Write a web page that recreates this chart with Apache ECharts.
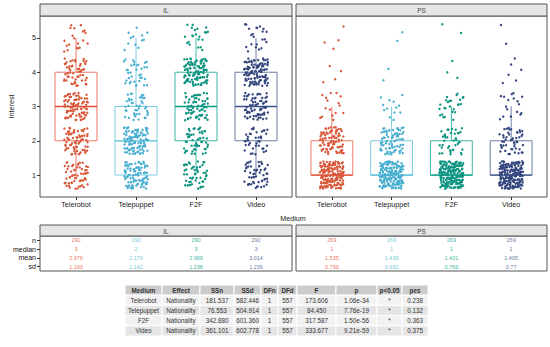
<!DOCTYPE html>
<html><head><meta charset="utf-8">
<script src="https://cdn.jsdelivr.net/npm/echarts@6/dist/echarts.min.js"></script>
<style>html,body{margin:0;padding:0;background:#fff}#c{width:550px;height:347px}</style>
</head><body><div id="c"></div>
<script>
// ---------- data ----------
const media = ['Telerobot', 'Telepuppet', 'F2F', 'Video'];
const panels = ['IL', 'PS'];
const levels = [1, 2, 3, 4, 5];
// number of responses at each Interest level (1..5), per medium
const countsIL = [[59, 71, 85, 55, 20], [96, 105, 42, 35, 12], [51, 51, 66, 100, 22], [53, 39, 71, 105, 22]];
const countsPS = [[161, 84, 16, 4, 4], [174, 78, 13, 2, 2], [199, 39, 26, 3, 2], [195, 49, 17, 6, 2]];
// box stats: lower whisker, Q1, median, Q3, upper whisker
const boxIL = [[1, 2, 3, 4, 5], [1, 1, 2, 3, 5], [1, 2, 3, 4, 5], [1, 2, 3, 4, 5]];
const boxPS = [[1, 1, 1, 2, 3], [1, 1, 1, 2, 3], [1, 1, 1, 2, 3], [1, 1, 1, 2, 3]];
const yTicks = [1, 2, 3, 4, 5];
const statRows = ['n', 'median', 'mean', 'sd'];
const nIL = [290, 290, 290, 290];
const nPS = [269, 269, 269, 269];
const medianIL = [3, 2, 3, 3];
const medianPS = [1, 1, 1, 1];
const meanIL = ['2.676', '2.179', '2.969', '3.014'];
const meanPS = ['1.535', '1.439', '1.401', '1.405'];
const sdIL = ['1.193', '1.142', '1.238', '1.239'];
const sdPS = ['0.799', '0.692', '0.769', '0.77'];
const anovaCols = ['Medium', 'Effect', 'SSn', 'SSd', 'DFn', 'DFd', 'F', 'p', 'p<0.05', 'pes'];
const anovaEffect = ['Nationality', 'Nationality', 'Nationality', 'Nationality'];
const anovaSSn = [181.537, 76.553, 342.880, 361.101];
const anovaSSd = [582.446, 504.914, 601.360, 602.778];
const anovaDFn = [1, 1, 1, 1];
const anovaDFd = [557, 557, 557, 557];
const anovaF = [173.606, 84.450, 317.587, 333.677];
const anovaP = [1.06e-34, 7.76e-19, 1.50e-56, 9.21e-59];
const anovaSig = ['*', '*', '*', '*'];
const anovaPes = [0.238, 0.132, 0.363, 0.375];

// ---------- style ----------
const colors = ['#E64B35', '#4DBBD5', '#00A087', '#3C5488'];
const pointColors = ['#D9583A', '#4AAFD0', '#0E9480', '#34467E'];
const FONT = 'Liberation Sans, Arial, sans-serif';
const TXT = '#1a1a1a';
const colWidths = [37, 38, 34, 27, 17, 19, 39, 41, 25, 26];
const JW = 0.2, JH = 0.4; // jitter half-width / half-height (data units)

function frac(v) { return v - Math.floor(v); }
function jitter(counts, xi, seed) {
  const pts = []; let k = 0;
  counts.forEach((c, li) => {
    for (let j = 0; j < c; j++) {
      k++;
      const u = frac(seed + k * 0.7548776662 + 0.09 * Math.sin(k * 12.9898));
      const v = frac(seed * 1.7 + k * 0.5698402910 + 0.09 * Math.sin(k * 78.233));
      pts.push([xi + (u - 0.5) * 2 * JW, levels[li] + (v - 0.5) * 2 * JH]);
    }
  });
  return pts;
}

function renderBox(params, api) {
  const x = api.value(0);
  const lo = api.coord([x, api.value(1)]), q1 = api.coord([x, api.value(2)]),
        md = api.coord([x, api.value(3)]), q3 = api.coord([x, api.value(4)]),
        hi = api.coord([x, api.value(5)]);
  const w = api.size([0.7, 0])[0];
  const col = colors[api.value(6)];
  const st = { stroke: col, lineWidth: 1, fill: null, opacity: 0.75 };
  return { type: 'group', children: [
    { type: 'line', shape: { x1: lo[0], y1: lo[1], x2: q1[0], y2: q1[1] }, style: st },
    { type: 'line', shape: { x1: q3[0], y1: q3[1], x2: hi[0], y2: hi[1] }, style: st },
    { type: 'rect', shape: { x: q3[0] - w / 2, y: q3[1], width: w, height: q1[1] - q3[1] }, style: { stroke: col, fill: '#fff', lineWidth: 1, strokeOpacity: 0.75 } },
    { type: 'line', shape: { x1: md[0] - w / 2, y1: md[1], x2: md[0] + w / 2, y2: md[1] }, style: { stroke: col, lineWidth: 1.3 } }
  ]};
}

const anovaRows = ['header'].concat(media);
function cellText(c, r) {
  if (r === 0) return anovaCols[c];
  const i = r - 1;
  switch (c) {
    case 0: return media[i];
    case 1: return anovaEffect[i];
    case 2: return anovaSSn[i].toFixed(3);
    case 3: return anovaSSd[i].toFixed(3);
    case 4: return String(anovaDFn[i]);
    case 5: return String(anovaDFd[i]);
    case 6: return anovaF[i].toFixed(3);
    case 7: return anovaP[i].toExponential(2);
    case 8: return anovaSig[i];
    case 9: return anovaPes[i].toFixed(3);
  }
}
const cum = [0]; colWidths.forEach(w => cum.push(cum[cum.length - 1] + w));
function renderCell(params, api) {
  const c = api.value(0), r = api.value(1);
  const p0 = api.coord([cum[c], r]), p1 = api.coord([cum[c + 1], r]);
  const h = api.size([0, 1])[1];
  const fill = r === 0 ? '#CCCCCC' : (r % 2 === 1 ? '#F2F2F2' : '#E5E5E5');
  return { type: 'group', children: [
    { type: 'rect', shape: { x: p0[0], y: p0[1] - h / 2, width: p1[0] - p0[0], height: h }, style: { fill: fill, stroke: '#fff', lineWidth: 1 } },
    { type: 'text', x: (p0[0] + p1[0]) / 2, y: p0[1], style: { text: cellText(c, r), align: 'center', verticalAlign: 'middle', fontSize: 6.3, fontFamily: FONT, fontWeight: r === 0 ? 'bold' : 'normal', fill: '#333' } }
  ]};
}

// ---------- layout ----------
const plotGrids = [
  { left: 40, top: 16, width: 252, height: 181 },
  { left: 296, top: 16, width: 251, height: 181 }
];
const tabGrids = [
  { left: 40, top: 236, width: 252, height: 35 },
  { left: 296, top: 236, width: 251, height: 35 }
];
const gridBase = { show: true, borderColor: '#555', borderWidth: 1, backgroundColor: '#fff', containLabel: false };

const grid = [], xAxis = [], yAxis = [], series = [];
plotGrids.forEach((g, pi) => {
  grid.push(Object.assign({}, gridBase, g));
  xAxis.push({ type: 'value', gridIndex: pi, min: 0.4, max: 4.6, splitLine: { show: false },
    axisLine: { show: false },
    axisTick: { show: true, length: 3, lineStyle: { color: '#333' }, customValues: [1, 2, 3, 4] },
    axisLabel: { show: true, customValues: [1, 2, 3, 4], formatter: v => media[Math.round(v) - 1], fontSize: 7.2, color: TXT, fontFamily: FONT, margin: 4 } });
  yAxis.push({ type: 'value', gridIndex: pi, min: 0.36, max: 5.64, splitLine: { show: false },
    axisLine: { show: false },
    name: pi === 0 ? 'Interest' : '', nameLocation: 'middle', nameGap: 25, nameRotate: 90,
    nameTextStyle: { fontSize: 7.2, color: TXT, fontFamily: FONT },
    axisTick: { show: pi === 0, length: 3, lineStyle: { color: '#333' }, customValues: yTicks },
    axisLabel: { show: pi === 0, customValues: yTicks, fontSize: 7.2, color: TXT, fontFamily: FONT, margin: 4 } });
  const boxes = pi === 0 ? boxIL : boxPS;
  series.push({ type: 'custom', xAxisIndex: pi, yAxisIndex: pi, renderItem: renderBox, silent: true,
    encode: { x: 0, y: [1, 2, 3, 4, 5] },
    data: boxes.map((b, i) => [i + 1].concat(b, [i])) });
  const counts = pi === 0 ? countsIL : countsPS;
  counts.forEach((cnt, i) => {
    series.push({ type: 'scatter', xAxisIndex: pi, yAxisIndex: pi, symbolSize: 2.4, silent: true,
      itemStyle: { color: pointColors[i], opacity: 1 },
      data: jitter(cnt, i + 1, 0.13 + pi * 0.31 + i * 0.17) });
  });
});
tabGrids.forEach((g, ti) => {
  const gi = 2 + ti;
  grid.push(Object.assign({}, gridBase, g));
  xAxis.push({ type: 'value', gridIndex: gi, min: 0.4, max: 4.6, show: false });
  yAxis.push({ type: 'category', gridIndex: gi, data: statRows, inverse: true,
    axisLine: { show: false }, splitLine: { show: false },
    axisTick: { show: ti === 0, length: 3, alignWithLabel: true, interval: 0, lineStyle: { color: '#333' } },
    axisLabel: { show: ti === 0, interval: 0, fontSize: 7, color: '#111', fontFamily: FONT, margin: 4 } });
  const rows = ti === 0 ? [nIL, medianIL, meanIL, sdIL] : [nPS, medianPS, meanPS, sdPS];
  const data = [];
  rows.forEach((vals, r) => vals.forEach((v, i) => data.push({ name: String(v), value: [i + 1, r], label: { color: colors[i] } })));
  series.push({ type: 'scatter', xAxisIndex: gi, yAxisIndex: gi, symbolSize: 0, silent: true,
    label: { show: true, position: 'inside', formatter: '{b}', fontSize: 5.5, fontFamily: FONT }, data: data });
});
// ANOVA table
grid.push({ left: 125, top: 285, width: 303, height: 51, show: false });
xAxis.push({ type: 'value', gridIndex: 4, min: 0, max: cum[cum.length - 1], show: false });
yAxis.push({ type: 'category', gridIndex: 4, data: anovaRows, inverse: true, show: false });
const cells = [];
anovaRows.forEach((_, r) => anovaCols.forEach((_, c) => cells.push([c, r])));
series.push({ type: 'custom', xAxisIndex: 4, yAxisIndex: 4, renderItem: renderCell, silent: true,
  encode: { x: 0, y: 1 }, data: cells });

// strips & shared axis title
const graphic = [];
function strip(x, y, w, h, label) {
  graphic.push({ type: 'rect', shape: { x: x, y: y, width: w, height: h }, style: { fill: '#E6E6E6', stroke: '#555', lineWidth: 1 }, silent: true });
  graphic.push({ type: 'text', x: x + w / 2, y: y + h / 2 + 0.5, style: { text: label, align: 'center', verticalAlign: 'middle', fontSize: 6.5, fontFamily: FONT, fill: '#444' }, silent: true });
}
plotGrids.forEach((g, i) => strip(g.left, 4, g.width, 12, panels[i]));
tabGrids.forEach((g, i) => strip(g.left, 225, g.width, 11, panels[i]));
graphic.push({ type: 'text', x: 293, y: 218, style: { text: 'Medium', align: 'center', verticalAlign: 'middle', fontSize: 7.2, fontFamily: FONT, fill: TXT }, silent: true });

const chart = echarts.init(document.getElementById('c'), null, { renderer: 'svg' });
chart.setOption({ animation: false, backgroundColor: '#fff', textStyle: { fontFamily: FONT, color: TXT },
  grid: grid, xAxis: xAxis, yAxis: yAxis, series: series, graphic: graphic });
</script></body></html>
